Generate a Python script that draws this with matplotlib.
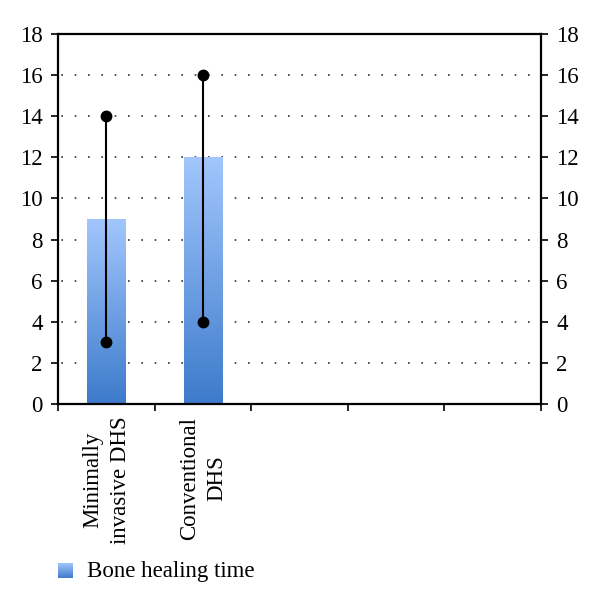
import matplotlib; matplotlib.use('Agg')
import matplotlib.pyplot as plt
import numpy as np
from matplotlib.colors import LinearSegmentedColormap

plt.rcParams['font.family'] = ['Liberation Serif', 'DejaVu Serif']

categories = ['Minimally\ninvasive DHS', 'Conventional\nDHS', '', '', '']
means = [9, 12]
lows = [3, 4]
highs = [14, 16]
yticks = list(range(0, 19, 2))

grad = LinearSegmentedColormap.from_list('g', ['#3d7bcb', '#a2c6fd'])

fig = plt.figure(figsize=(6, 6.07), dpi=100)
ax = fig.add_axes([58/600, 1 - 404/607, (541-58)/600, (404-34)/607])

# gradient bars
bars = ax.bar(np.arange(len(means)) + 0.5, means, width=0.4, color='none', zorder=2)
g = np.linspace(0, 1, 256).reshape(-1, 1)
for b in bars:
    x0, y0 = b.get_x(), b.get_y()
    w, h = b.get_width(), b.get_height()
    ax.imshow(g, cmap=grad, origin='lower', aspect='auto',
              extent=[x0, x0 + w, y0, y0 + h], zorder=2)

# range lines
for i, (lo, hi) in enumerate(zip(lows, highs)):
    ax.plot([i + 0.5, i + 0.5], [lo, hi], color='black', lw=1.5, zorder=3)
    ax.plot([i + 0.5, i + 0.5], [lo, hi], 'o', color='black', ms=7.5, zorder=4)

ax.set_xlim(0, 5)
ax.set_ylim(0, 18)

for y in yticks[1:-1]:
    ax.axhline(y, color='#333333', lw=1.2, ls=(6, (1, 7)), zorder=1)

ax.set_yticks(yticks)
ax.tick_params(axis='y', which='both', left=True, right=True, labelleft=True,
               labelright=True, direction='out', length=5, width=1.2,
               labelsize=16.5, pad=6)
ax.set_xticks(range(6))
ax.set_xticklabels([])
ax.set_xticks(np.arange(5) + 0.5, minor=True)
ax.set_xticklabels(categories, minor=True, rotation=90, fontsize=16.5,
                   linespacing=1.4, va='top', ha='center', multialignment='center')
ax.tick_params(axis='x', which='major', direction='out', length=5, width=1.2)
ax.tick_params(axis='x', which='minor', length=0, pad=9)
for s in ax.spines.values():
    s.set_linewidth(1.6)

# legend
lax = fig.add_axes([58/600, 1 - 578/607, 15/600, 15/607])
lax.imshow(g, cmap=grad, origin='lower', aspect='auto', extent=[0, 1, 0, 1])
lax.axis('off')
fig.text(87/600, 1 - 571/607, 'Bone healing time', fontsize=16.5, va='center', ha='left')

fig.savefig('out.png', dpi=100)
